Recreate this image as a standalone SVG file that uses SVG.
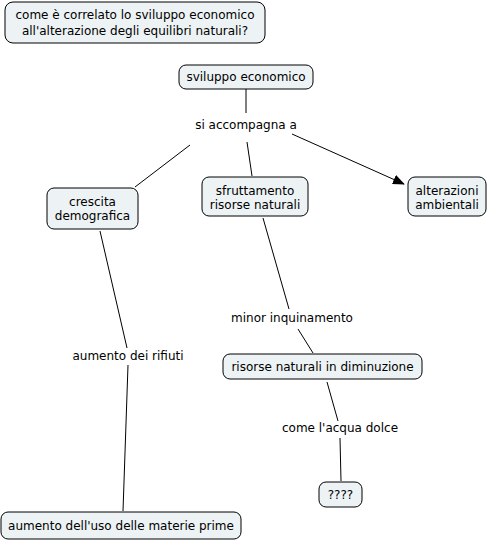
<svg xmlns="http://www.w3.org/2000/svg" width="489" height="542" viewBox="0 0 489 542">
<style>
.n rect{fill:#edf3f5;stroke:#000;stroke-width:1}
text{font-family:"DejaVu Sans",Verdana,sans-serif;font-size:12px;fill:#000;text-anchor:middle}
.c line{stroke:#000;stroke-width:1}
</style>
<defs>
<marker id="ah" markerWidth="12" markerHeight="10" refX="11" refY="5" orient="auto" markerUnits="userSpaceOnUse">
<path d="M0,0 L12,5 L0,10 z" fill="#000"/>
</marker>
</defs>
<rect width="489" height="542" fill="#fff"/>
<g class="c">
<line x1="246" y1="89" x2="246" y2="113"/>
<line x1="190" y1="145" x2="135" y2="187"/>
<line x1="247" y1="142" x2="252" y2="176"/>
<line x1="292" y1="134" x2="404" y2="184" marker-end="url(#ah)"/>
<line x1="263" y1="218" x2="289" y2="309"/>
<line x1="298" y1="329" x2="313" y2="353"/>
<line x1="327" y1="382" x2="338" y2="421"/>
<line x1="340" y1="438" x2="341" y2="481"/>
<line x1="100" y1="231" x2="127" y2="348"/>
<line x1="128" y1="365" x2="123" y2="511"/>
</g>
<g id="q" class="n"><rect x="5" y="2" width="260" height="41" rx="8"/><text x="135" y="19">come è correlato lo sviluppo economico</text><text x="135" y="35">all'alterazione degli equilibri naturali?</text></g>
<g id="sv" class="n"><rect x="179" y="65" width="134" height="24" rx="7"/><text x="246" y="81">sviluppo economico</text></g>
<g id="l1"><text x="246" y="129">si accompagna a</text></g>
<g id="cd" class="n"><rect x="47" y="188" width="91" height="41" rx="7"/><text x="92.5" y="206">crescita</text><text x="92.5" y="220">demografica</text></g>
<g id="sr" class="n"><rect x="202" y="177" width="106" height="39" rx="7"/><text x="255" y="195">sfruttamento</text><text x="255" y="209">risorse naturali</text></g>
<g id="aa" class="n"><rect x="408" y="177" width="78" height="39" rx="7"/><text x="447" y="195">alterazioni</text><text x="447" y="209">ambientali</text></g>
<g id="l2"><text x="292" y="322">minor inquinamento</text></g>
<g id="rn" class="n"><rect x="223" y="354" width="199" height="25" rx="7"/><text x="322.5" y="371">risorse naturali in diminuzione</text></g>
<g id="l3"><text x="340" y="432">come l'acqua dolce</text></g>
<g id="qq" class="n"><rect x="319" y="482" width="43" height="25" rx="7"/><text x="340.5" y="499">????</text></g>
<g id="l4"><text x="128" y="360">aumento dei rifiuti</text></g>
<g id="am" class="n"><rect x="1" y="512" width="240" height="27" rx="7"/><text x="121" y="530">aumento dell'uso delle materie prime</text></g>
</svg>
